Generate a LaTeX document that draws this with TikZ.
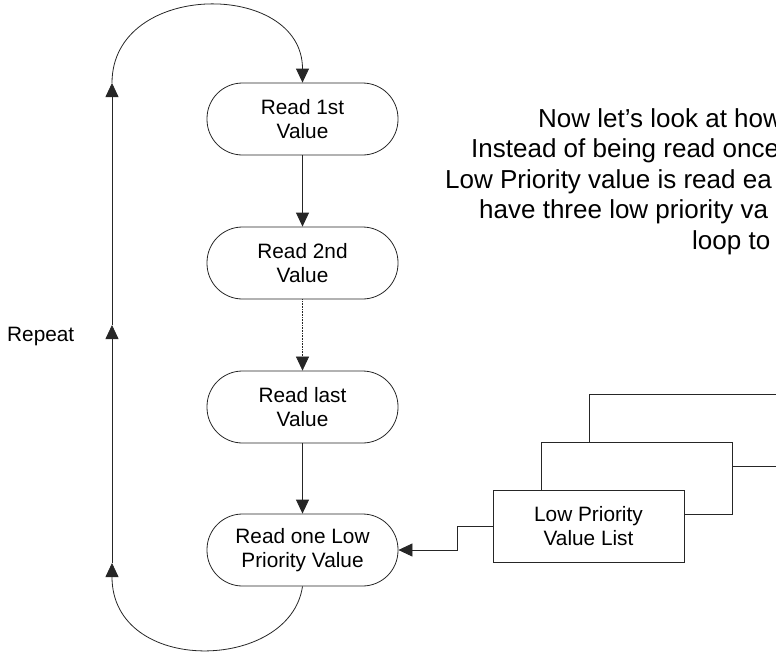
\documentclass[tikz,border=0pt]{standalone}
\usepackage{fontspec}
\setmainfont{Liberation Sans}
\usetikzlibrary{arrows.meta}
\begin{document}
\begin{tikzpicture}[x=1pt,y=-1pt,
  capsule/.style={draw=black!85, line width=0.8pt, rounded corners=35.5pt, minimum width=191pt, minimum height=72pt, inner sep=0pt, align=center, font=\fontsize{20.8}{24.3}\selectfont},
  listbox/.style={draw=black!85, fill=white, line width=0.8pt, minimum width=191pt, minimum height=72pt, inner sep=0pt, align=center, font=\fontsize{20.8}{24.3}\selectfont},
  conn/.style={draw=black!85, line width=0.8pt},
  arr/.style={-{Triangle[length=14pt,width=13pt]}},
  smalltxt/.style={inner sep=0pt, font=\fontsize{20.8}{24.3}\selectfont},
  bigtxt/.style={inner sep=0pt, anchor=base west, font=\fontsize{26}{30.5}\selectfont}
]
\useasboundingbox (0,0) rectangle (776,651);
\clip (0,0) rectangle (776,651);
% flow nodes
\node[capsule] (r1) at (302.5,119) {Read 1st\\Value};
\node[capsule] (r2) at (302.5,263) {Read 2nd\\Value};
\node[capsule] (r3) at (302.5,407) {Read last\\Value};
\node[capsule] (r4) at (302.5,550) {Read one Low\\Priority Value};
% stacked list boxes
\node[listbox] (lst3) at (684.5,430) {};
\node[listbox] (lst2) at (636.5,478) {};
\node[listbox] (lp) at (588.5,526) {Low Priority\\Value List};
% loop coordinates
\coordinate (lbtm) at (112,563);
\coordinate (lmid) at (112,325);
\coordinate (ltop) at (112,83);
% connectors
\draw[conn,arr] (r1.south) -- (r2.north);
\draw[conn,arr,line width=0.6pt,densely dotted] (r2.south) -- (r3.north);
\draw[conn,arr] (r3.south) -- (r4.north);
\draw[conn,arr] (r4.south) .. controls (290,672) and (112,676) .. (lbtm);
\draw[conn,arr] (lbtm) -- (lmid);
\draw[conn,arr] (lmid) -- (ltop);
\draw[conn,arr] (ltop) .. controls (112,-20) and (302.5,-20) .. (r1.north);
\draw[conn,arr] (lp.west) -- ++(-35,0) |- (r4.east);
% labels
\node[smalltxt, anchor=base west] (rep) at (7,341) {Repeat};
\node[bigtxt] (t1) at (538,127) {Now let’s look at how};
\node[bigtxt] (t2) at (471,157) {Instead of being read once};
\node[bigtxt] (t3) at (445,188) {Low Priority value is read ea};
\node[bigtxt] (t4) at (479,218) {have three low priority va};
\node[bigtxt] (t5) at (692,249) {loop to};
\end{tikzpicture}
\end{document}
